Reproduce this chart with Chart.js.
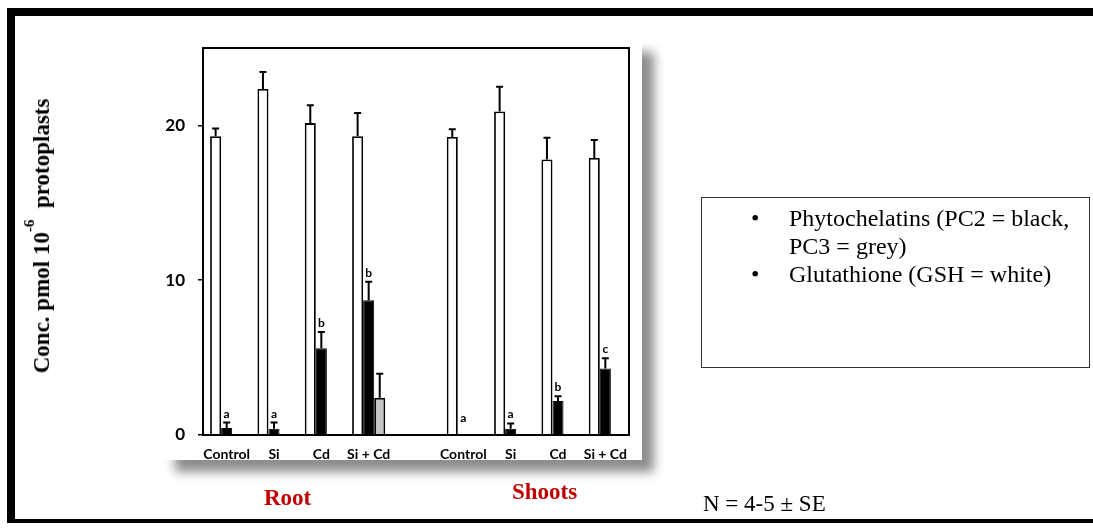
<!DOCTYPE html>
<html>
<head>
<meta charset="utf-8">
<script src="https://cdn.jsdelivr.net/npm/chart.js@4/dist/chart.umd.min.js"></script>
<style>
  html, body { margin: 0; padding: 0; background: #fff; width: 1093px; height: 531px; overflow: hidden; }
  body { position: relative; }
  #frame { position: absolute; left: 7px; top: 8px; width: 1120px; height: 503px;
           border-top: 8px solid #000; border-left: 8px solid #000; border-bottom: 4px solid #000; }
  #panel { position: absolute; left: 163px; top: 40px; width: 479px; height: 420px; background: #fff;
           box-shadow: 12px 12px 10px rgba(0,0,0,0.45); }
  #chart { position: absolute; left: 0; top: 0; }
  .serif { font-family: "Liberation Serif", "Times New Roman", serif; color: #000; white-space: nowrap; position: absolute; }
  #ytitle { left: 43px; top: 236px; font-size: 23px; font-weight: bold; line-height: 24px;
            transform: translate(-50%, -50%) rotate(-90deg); }
  #ytitle .exp { position: relative; top: -15px; font-size: 15px; }
  .group { font-size: 23px; font-weight: bold; color: #c00000; line-height: 23px; }
  #legendbox { position: absolute; left: 701px; top: 197px; width: 387px; height: 169px; border: 1.5px solid #333; }
  .lg { font-size: 24px; line-height: 28px; }
  .bul { font-size: 24px; line-height: 28px; }
  #note { left: 703px; top: 492px; font-size: 23px; line-height: 23px; }
</style>
</head>
<body>
<div id="frame"></div>
<div id="panel"></div>
<canvas id="chart" width="1093" height="531"></canvas>

<div id="ytitle" class="serif">Conc. pmol 10<span class="exp">-6</span>&nbsp; protoplasts</div>
<div class="serif group" style="left:264px; top:486px;">Root</div>
<div class="serif group" style="left:512px; top:480px;">Shoots</div>

<div id="legendbox"></div>
<div class="serif bul" style="left:751px; top:204px;">•</div>
<div class="serif lg" style="left:789px; top:204px;">Phytochelatins (PC2 = black,</div>
<div class="serif lg" style="left:789px; top:232px;">PC3 = grey)</div>
<div class="serif bul" style="left:751px; top:260px;">•</div>
<div class="serif lg" style="left:789px; top:260px;">Glutathione (GSH = white)</div>
<div id="note" class="serif">N = 4-5 ± SE</div>

<script>
// Treatments for root (left) and shoots (right); the blank slot separates the two tissues
const categories = ['Control', 'Si', 'Cd', 'Si + Cd', '', 'Control', 'Si', 'Cd', 'Si + Cd'];

// Glutathione (GSH, white bars) and its SE
const gsh    = [19.3, 22.35, 20.15, 19.3, null, 19.25, 20.9, 17.8, 17.9];
const gshErr = [0.5, 1.1, 1.15, 1.5, null, 0.5, 1.6, 1.4, 1.15];

// Phytochelatin PC2 (black bars) and its SE
const pc2    = [0.45, 0.4, 5.6, 8.7, null, 0, 0.4, 2.2, 4.3];
const pc2Err = [0.35, 0.4, 1.05, 1.2, null, 0, 0.35, 0.3, 0.65];

// Phytochelatin PC3 (grey bars) and its SE
const pc3    = [0, 0, 0, 2.4, null, 0, 0, 0, 0];
const pc3Err = [0, 0, 0, 1.55, null, 0, 0, 0, 0];

// Significance letters printed over the PC2 bars
const pc2Letters = ['a', 'a', 'b', 'b', '', 'a', 'a', 'b', 'c'];

// Y-axis tick values
const yTicks = [0, 10, 20];

const errors = [gshErr, pc2Err, pc3Err];

// Upper error bars with caps, plus the letters above PC2
const errorBarPlugin = {
  id: 'errorBars',
  afterDatasetsDraw(chart) {
    const ctx = chart.ctx;
    const y = chart.scales.y;
    ctx.save();
    ctx.strokeStyle = '#000';
    ctx.lineWidth = 2;
    chart.data.datasets.forEach((ds, di) => {
      const meta = chart.getDatasetMeta(di);
      meta.data.forEach((bar, i) => {
        const v = ds.data[i];
        const e = errors[di][i];
        if (v == null || !e) return;
        const x = bar.x;
        const y0 = y.getPixelForValue(v);
        const y1 = y.getPixelForValue(v + e);
        ctx.beginPath();
        ctx.moveTo(x, y0);
        ctx.lineTo(x, y1);
        ctx.moveTo(x - 3.5, y1);
        ctx.lineTo(x + 3.5, y1);
        ctx.stroke();
      });
    });
    // letters over PC2
    const meta = chart.getDatasetMeta(1);
    ctx.fillStyle = '#000';
    ctx.font = 'bold 12px Lato, "Liberation Sans", sans-serif';
    ctx.textAlign = 'center';
    ctx.textBaseline = 'alphabetic';
    const base = y.getPixelForValue(0);
    meta.data.forEach((bar, i) => {
      const t = pc2Letters[i];
      if (!t) return;
      const top = (pc2[i] || 0) + (pc2Err[i] || 0);
      let yy = y.getPixelForValue(top) - 5;
      if (yy > base - 13) yy = base - 13;
      ctx.fillText(t, bar.x, yy);
    });
    ctx.restore();
  }
};

// Frame around the plot area
const boxPlugin = {
  id: 'plotBox',
  afterDraw(chart) {
    const a = chart.chartArea;
    const ctx = chart.ctx;
    ctx.save();
    ctx.strokeStyle = '#000';
    ctx.lineWidth = 2;
    ctx.strokeRect(a.left, a.top, a.right - a.left, a.bottom - a.top);
    ctx.restore();
  }
};

new Chart(document.getElementById('chart'), {
  type: 'bar',
  data: {
    labels: categories,
    datasets: [
      { label: 'GSH', data: gsh, backgroundColor: '#ffffff', borderColor: '#000', borderWidth: 1.8 },
      { label: 'PC2', data: pc2, backgroundColor: '#000000', borderColor: '#000', borderWidth: 1 },
      { label: 'PC3', data: pc3, backgroundColor: '#c4c4c4', borderColor: '#000', borderWidth: 1.8 }
    ]
  },
  options: {
    responsive: false,
    animation: false,
    events: [],
    layout: { padding: { left: 163, right: 464, top: 48, bottom: 68 } },
    datasets: { bar: { categoryPercentage: 0.7, barPercentage: 1.0 } },
    plugins: { legend: { display: false }, tooltip: { enabled: false } },
    scales: {
      x: {
        grid: { display: false, drawTicks: false },
        border: { display: false },
        ticks: {
          padding: 11,
          maxRotation: 0,
          autoSkip: false,
          color: '#000',
          font: { family: 'Lato, "Liberation Sans", sans-serif', size: 14, weight: 'bold' }
        },
        afterFit(s) { s.height = 28; }
      },
      y: {
        min: 0,
        max: 25,
        grid: { display: true, drawOnChartArea: false, drawTicks: true, tickLength: 5, color: '#000', lineWidth: 1.5 },
        border: { display: false },
        ticks: {
          padding: 13,
          color: '#000',
          font: { family: 'Lato, "Liberation Sans", sans-serif', size: 17, weight: 'bold' }
        },
        afterBuildTicks(s) { s.ticks = yTicks.map(v => ({ value: v })); },
        afterFit(s) { s.width = 40; }
      }
    }
  },
  plugins: [errorBarPlugin, boxPlugin]
});
</script>
</body>
</html>
